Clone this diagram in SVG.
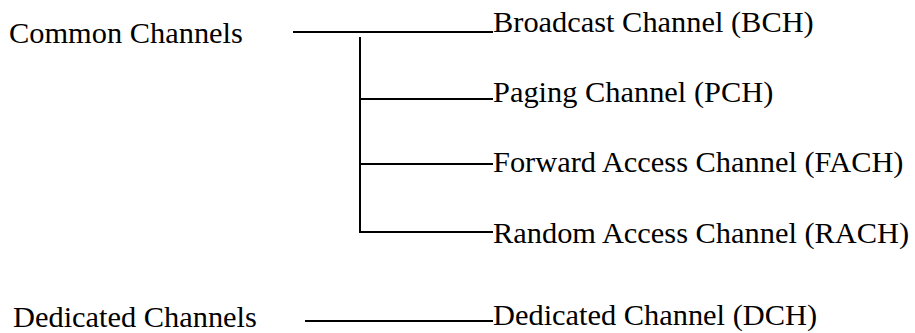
<svg xmlns="http://www.w3.org/2000/svg" width="915" height="333" viewBox="0 0 915 333">
<style>
text{font-family:"Liberation Serif","Times New Roman",serif;font-size:30.4px;fill:#000}
.ln{stroke:#000;stroke-width:2;fill:none}
</style>
<rect width="915" height="333" fill="#fff"/>
<g id="connectors">
<line class="ln" x1="293" y1="32" x2="493" y2="32"/>
<line class="ln" x1="360" y1="37" x2="360" y2="233"/>
<line class="ln" x1="360" y1="99" x2="493" y2="99"/>
<line class="ln" x1="360" y1="164" x2="493" y2="164"/>
<line class="ln" x1="360" y1="232" x2="493" y2="232"/>
<line class="ln" x1="305" y1="321" x2="493" y2="321"/>
</g>
<g id="common"><text x="9" y="43">Common Channels</text></g>
<g id="dedicated"><text x="13" y="327">Dedicated Channels</text></g>
<g id="bch"><text x="493" y="32">Broadcast Channel (BCH)</text></g>
<g id="pch"><text x="493" y="102">Paging Channel (PCH)</text></g>
<g id="fach"><text x="493" y="172">Forward Access Channel (FACH)</text></g>
<g id="rach"><text x="493" y="243">Random Access Channel (RACH)</text></g>
<g id="dch"><text x="493" y="325">Dedicated Channel (DCH)</text></g>
</svg>
